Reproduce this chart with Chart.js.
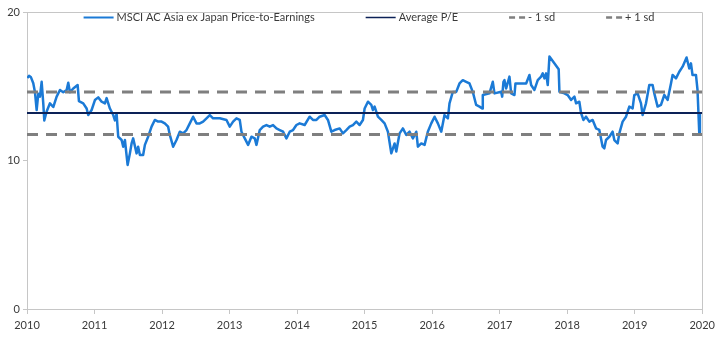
<!DOCTYPE html>
<html>
<head>
<meta charset="utf-8">
<script src="https://cdn.jsdelivr.net/npm/chart.js@4.4.1/dist/chart.umd.min.js"></script>
<style>
  html, body { margin: 0; padding: 0; background: #ffffff; }
  #wrap { width: 720px; height: 343px; }
</style>
</head>
<body>
<div id="wrap"><canvas id="c" width="720" height="343"></canvas></div>
<script>
// ---- Data ----
const seriesLabels = ["MSCI AC Asia ex Japan Price-to-Earnings", "Average P/E", "- 1 sd", "+ 1 sd"];
const xTickYears = [2010, 2011, 2012, 2013, 2014, 2015, 2016, 2017, 2018, 2019, 2020];
const yTicks = [0, 10, 20];

const dates = [2010.004, 2010.03, 2010.059, 2010.093, 2010.118, 2010.143, 2010.167, 2010.192, 2010.217, 2010.241, 2010.256, 2010.291, 2010.340, 2010.389, 2010.439, 2010.488, 2010.537, 2010.587, 2010.611, 2010.636, 2010.685, 2010.75, 2010.769, 2010.833, 2010.883, 2010.907, 2010.957,
 2011.006, 2011.055, 2011.105, 2011.154, 2011.179, 2011.228, 2011.277, 2011.302, 2011.327, 2011.351, 2011.401, 2011.425, 2011.450, 2011.490, 2011.524, 2011.549, 2011.572, 2011.623, 2011.646, 2011.672, 2011.720, 2011.746, 2011.794, 2011.845, 2011.893, 2011.942, 2011.993,
 2012.041, 2012.090, 2012.115, 2012.164, 2012.214, 2012.263, 2012.312, 2012.362, 2012.411, 2012.460, 2012.510, 2012.559, 2012.608, 2012.658, 2012.707, 2012.756, 2012.855, 2012.954,
 2013.003, 2013.052, 2013.102, 2013.151, 2013.176, 2013.225, 2013.274, 2013.324, 2013.373, 2013.398, 2013.447, 2013.496, 2013.546, 2013.595, 2013.644, 2013.694, 2013.743, 2013.793, 2013.842, 2013.891, 2013.940, 2013.990,
 2014.038, 2014.112, 2014.186, 2014.235, 2014.286, 2014.334, 2014.408, 2014.457, 2014.507, 2014.556, 2014.630, 2014.679, 2014.729, 2014.778, 2014.827, 2014.877, 2014.926, 2014.975,
 2015.000, 2015.049, 2015.099, 2015.123, 2015.148, 2015.197, 2015.247, 2015.296, 2015.345, 2015.395, 2015.444, 2015.469, 2015.518, 2015.567, 2015.617, 2015.666, 2015.715, 2015.765, 2015.789, 2015.839, 2015.888, 2015.936, 2015.987,
 2016.036, 2016.085, 2016.135, 2016.183, 2016.233, 2016.257, 2016.306, 2016.357, 2016.405, 2016.454, 2016.504, 2016.553, 2016.602, 2016.652, 2016.701, 2016.741, 2016.750, 2016.849, 2016.898, 2016.923,
 2017.022, 2017.037, 2017.056, 2017.071, 2017.096, 2017.145, 2017.170, 2017.219, 2017.234, 2017.392, 2017.441, 2017.466, 2017.515, 2017.564, 2017.614, 2017.638, 2017.663, 2017.688, 2017.712, 2017.737, 2017.874, 2017.885, 2017.959,
 2018.007, 2018.058, 2018.107, 2018.132, 2018.180, 2018.205, 2018.240, 2018.279, 2018.328, 2018.377, 2018.427, 2018.476, 2018.525, 2018.550, 2018.575, 2018.624, 2018.673, 2018.698, 2018.747, 2018.772, 2018.821, 2018.871, 2018.920, 2018.969, 2018.994,
 2019.043, 2019.093, 2019.117, 2019.167, 2019.216, 2019.265, 2019.290, 2019.339, 2019.389, 2019.438, 2019.487, 2019.537, 2019.561, 2019.611, 2019.660, 2019.709, 2019.768, 2019.808, 2019.833, 2019.856, 2019.907, 2019.930, 2019.956, 2019.966];

const peValues = [15.55, 15.7, 15.6, 15.2, 14.6, 13.4, 14.5, 14.3, 15.3, 13.85, 12.7, 13.3, 13.85, 13.6, 14.3, 14.75, 14.6, 14.75, 15.24, 14.6, 14.85, 15.08, 14.0, 13.85, 13.5, 13.06, 13.4,
 14.07, 14.25, 13.96, 13.85, 14.2, 13.5, 13.06, 12.7, 13.15, 11.6, 11.38, 10.93, 11.38, 9.7, 10.48, 11.15, 11.49, 10.48, 10.93, 10.37, 10.37, 11.05, 11.6, 12.28, 12.73, 12.62, 12.62,
 12.5, 12.28, 11.72, 10.93, 11.38, 11.94, 11.83, 12.05, 12.5, 12.95, 12.5, 12.5, 12.62, 12.84, 13.06, 12.84, 12.84, 12.73,
 12.28, 12.62, 12.84, 12.73, 11.94, 11.49, 11.05, 11.6, 11.49, 11.05, 12.05, 12.28, 12.39, 12.28, 12.39, 12.16, 12.05, 11.94, 11.49, 11.94, 12.05, 12.39,
 12.5, 12.39, 12.95, 12.73, 12.73, 12.95, 13.06, 12.73, 11.94, 12.05, 12.16, 11.83, 12.05, 12.28, 12.39, 12.62, 12.39, 12.73,
 13.5, 13.96, 13.74, 13.4, 13.63, 12.95, 12.73, 12.5, 11.94, 10.48, 11.15, 10.6, 11.83, 12.16, 11.72, 11.94, 11.49, 11.94, 10.93, 11.15, 11.05, 11.94, 12.5,
 12.95, 12.5, 11.94, 13.06, 12.84, 13.85, 14.62, 14.62, 15.19, 15.41, 15.3, 15.19, 14.62, 13.74, 13.63, 13.51, 14.41, 14.52, 15.3, 14.52,
 14.63, 14.3, 15.3, 15.41, 14.85, 15.65, 14.52, 14.41, 15.19, 15.19, 15.76, 15.08, 14.75, 15.41, 15.65, 15.87, 15.53, 15.87, 15.08, 17.0, 16.14, 14.63, 14.52,
 14.41, 14.08, 14.3, 13.85, 13.96, 13.2, 12.73, 12.95, 12.62, 12.73, 12.17, 12.06, 10.93, 10.82, 11.38, 11.6, 11.94, 11.38, 11.15, 11.83, 12.62, 12.95, 13.63, 13.51, 14.41,
 14.52, 13.85, 13.06, 13.85, 15.08, 15.08, 14.52, 13.63, 13.74, 14.41, 14.08, 15.19, 15.76, 15.53, 15.98, 16.32, 16.94, 16.2, 16.54, 15.76, 15.76, 14.75, 11.83, 13.2];

const averagePE = 13.2;
const minus1sd = 11.75;
const plus1sd = 14.62;
const xRange = [2010, 2020];

// ---- Build library data ----
const peData = dates.map((d, i) => ({ x: d, y: peValues[i] }));
const flat = v => xRange.map(x => ({ x: x, y: v }));

const FONT = "Lato, 'Noto Sans', sans-serif";
const TEXT = '#3a3a3a';
const AXIS = '#c6c6c6';

const colors = ['#1b7ad6', '#0c2157', '#7f7f7f', '#7f7f7f'];
const widths = [2.5, 2, 3, 3];
const dashes = [[], [], [11, 8], [11, 8]];

const frame = {
  id: 'frame',
  beforeDatasetsDraw(chart) {
    const a = chart.chartArea, ctx = chart.ctx;
    ctx.save();
    ctx.strokeStyle = AXIS;
    ctx.lineWidth = 1;
    ctx.beginPath();
    ctx.moveTo(Math.round(a.left) + 0.5, Math.round(a.top) + 0.5);
    ctx.lineTo(Math.round(a.right) + 0.5, Math.round(a.top) + 0.5);
    ctx.lineTo(Math.round(a.right) + 0.5, Math.round(a.bottom) + 0.5);
    ctx.stroke();
    ctx.restore();
  }
};

const legendInside = {
  id: 'legendInside',
  afterDraw(chart) {
    const ctx = chart.ctx, a = chart.chartArea;
    ctx.save();
    ctx.font = "11px " + FONT;
    ctx.textBaseline = 'middle';
    const sampleW = [30, 30, 16, 16];
    const gapText = 3, gapItem = 51;
    let total = 0;
    const tw = seriesLabels.map(s => ctx.measureText(s).width);
    seriesLabels.forEach((s, i) => { total += sampleW[i] + gapText + tw[i] + (i < seriesLabels.length - 1 ? gapItem : 0); });
    let x = 369 - total / 2;
    const y = a.top + 5.5;
    seriesLabels.forEach((s, i) => {
      ctx.strokeStyle = colors[i];
      ctx.lineWidth = i === 0 ? 2 : (i === 1 ? 1.5 : 2.5);
      ctx.setLineDash(i >= 2 ? [6, 4] : []);
      ctx.beginPath();
      ctx.moveTo(x, y);
      ctx.lineTo(x + sampleW[i], y);
      ctx.stroke();
      ctx.setLineDash([]);
      x += sampleW[i] + gapText;
      ctx.fillStyle = TEXT;
      ctx.fillText(s, x, y);
      x += tw[i] + gapItem;
    });
    ctx.restore();
  }
};

new Chart(document.getElementById('c'), {
  type: 'line',
  data: {
    datasets: [
      { label: seriesLabels[0], data: peData, borderColor: colors[0], borderWidth: widths[0], pointRadius: 0, tension: 0, order: 5, borderJoinStyle: 'round' },
      { label: seriesLabels[1], data: flat(averagePE), borderColor: colors[1], borderWidth: widths[1], pointRadius: 0, order: 1 },
      { label: seriesLabels[2], data: flat(minus1sd), borderColor: colors[2], borderWidth: widths[2], borderDash: dashes[2], pointRadius: 0, order: 2 },
      { label: seriesLabels[3], data: flat(plus1sd), borderColor: colors[3], borderWidth: widths[3], borderDash: dashes[3], pointRadius: 0, order: 3 }
    ]
  },
  options: {
    responsive: false,
    animation: false,
    devicePixelRatio: 1,
    layout: { padding: { top: 12, right: 17, left: 0, bottom: 0 } },
    plugins: { legend: { display: false }, tooltip: { enabled: false } },
    scales: {
      x: {
        type: 'linear', min: xRange[0], max: xRange[1],
        afterBuildTicks: s => { s.ticks = xTickYears.map(v => ({ value: v })); },
        ticks: { callback: v => String(v), color: TEXT, font: { family: FONT, size: 11 }, padding: 5, maxRotation: 0, autoSkip: false },
        grid: { display: true, drawOnChartArea: false, drawTicks: true, tickLength: 5, color: AXIS },
        border: { color: AXIS },
        afterFit: s => { s.height = 34; }
      },
      y: {
        min: 0, max: 20,
        afterBuildTicks: s => { s.ticks = yTicks.map(v => ({ value: v })); },
        ticks: { callback: v => String(v), color: TEXT, font: { family: FONT, size: 11 }, padding: 3 },
        grid: { display: true, drawOnChartArea: false, drawTicks: true, tickLength: 4, color: AXIS },
        border: { color: AXIS },
        afterFit: s => { s.width = 27; }
      }
    }
  },
  plugins: [frame, legendInside]
});
</script>
</body>
</html>
